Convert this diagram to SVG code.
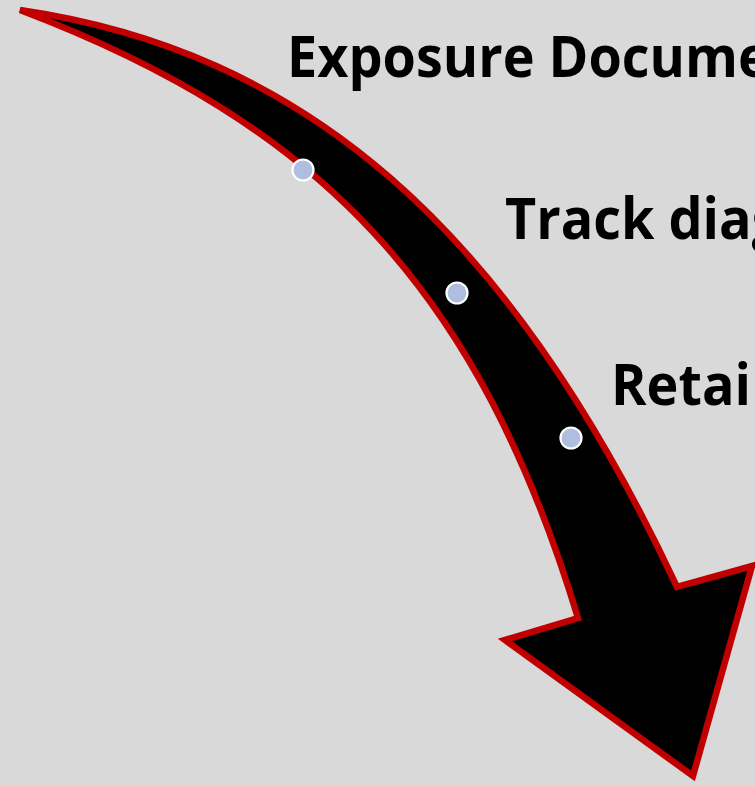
<svg xmlns="http://www.w3.org/2000/svg" width="755" height="786" viewBox="0 0 755 786">
  <style>
    .lbl { font-family: "Open Sans", "Noto Sans", "Liberation Sans", sans-serif; font-weight: 700; font-size: 58px; fill: #000000; }
    .dot { fill: #afbddf; stroke: #ffffff; stroke-width: 2.2; }
  </style>
  <rect x="0" y="0" width="755" height="786" fill="#d9d9d9"/>
  <g id="connectors">
    <path id="arrow" d="M 20 10 C 300 51 507 223 677 587 L 752 566 L 693 776 L 505 640 L 578 618 C 478 288 320 124 20 10 Z" fill="#000000" stroke="#c00000" stroke-width="6.5"/>
  </g>
  <g id="step1">
    <circle class="dot" cx="303" cy="170" r="10.5"/>
    <text class="lbl" transform="translate(287 77) scale(0.93 1)" x="0" y="0">Exposure Docume</text>
  </g>
  <g id="step2">
    <circle class="dot" cx="457" cy="293" r="10.5"/>
    <text class="lbl" transform="translate(505 239) scale(0.93 1)" x="0" y="0">Track diag</text>
  </g>
  <g id="step3">
    <circle class="dot" cx="571" cy="438" r="10.5"/>
    <text class="lbl" transform="translate(611 405) scale(0.93 1)" x="0" y="0">Retai</text>
  </g>
</svg>
